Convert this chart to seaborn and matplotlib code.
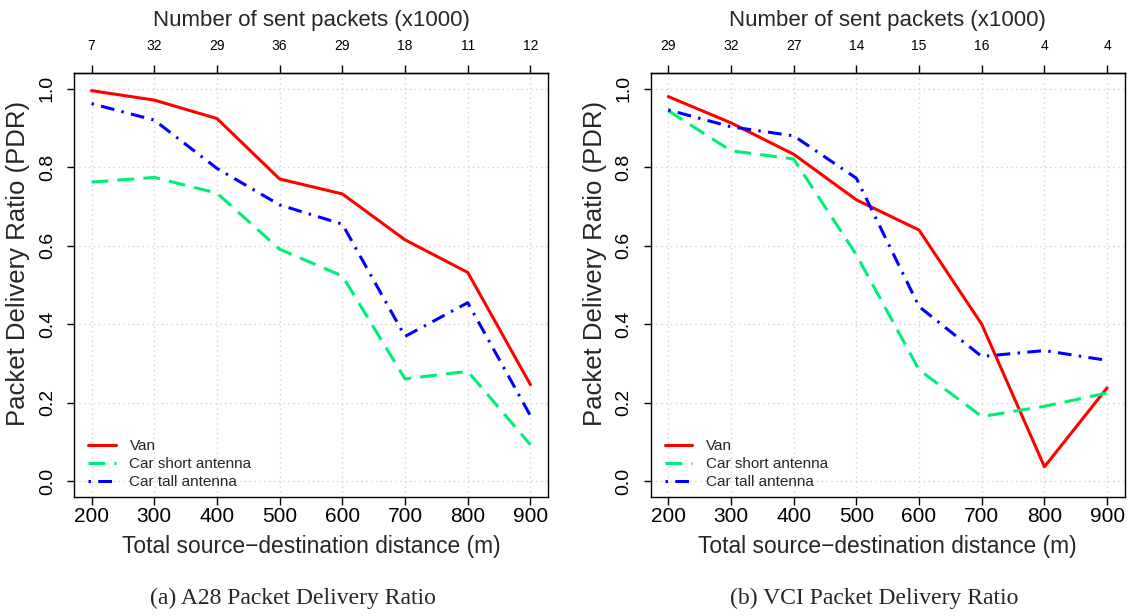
import matplotlib
matplotlib.use("Agg")
import matplotlib.pyplot as plt
import seaborn as sns

# Distances between source and destination (m)
distance = [200, 300, 400, 500, 600, 700, 800, 900]

# A28 scenario
a28_packets = ["7", "32", "29", "36", "29", "18", "11", "12"]
a28_van = [0.995, 0.971, 0.924, 0.770, 0.732, 0.615, 0.532, 0.246]
a28_car_short = [0.762, 0.774, 0.734, 0.591, 0.523, 0.261, 0.280, 0.093]
a28_car_tall = [0.962, 0.920, 0.797, 0.704, 0.655, 0.369, 0.455, 0.167]

# VCI scenario
vci_packets = ["29", "32", "27", "14", "15", "16", "4", "4"]
vci_van = [0.980, 0.913, 0.833, 0.717, 0.640, 0.400, 0.037, 0.238]
vci_car_short = [0.944, 0.842, 0.821, 0.577, 0.284, 0.165, 0.191, 0.225]
vci_car_tall = [0.946, 0.903, 0.880, 0.772, 0.445, 0.318, 0.333, 0.308]

series_names = ["Van", "Car short antenna", "Car tall antenna"]
y_ticks = [0.0, 0.2, 0.4, 0.6, 0.8, 1.0]
captions = ["(a) A28 Packet Delivery Ratio", "(b) VCI Packet Delivery Ratio"]

sns.set_style("white")
plt.rcParams["font.family"] = ["Liberation Sans", "DejaVu Sans"]

colors = ["#FF0000", "#00EE76", "#0000FF"]
styles = ["-", (0, (5.5, 3.0)), (0, (0.8, 2.4, 4.5, 2.4))]
LW = 2.2

fig = plt.figure(figsize=(11.3, 6.16), dpi=100)
W, H = 1130, 616
box_h = 424
bottom = 1 - 497 / H
lefts = [74 / W, 650.7 / W]
width = 474 / W
caption_x = [293, 874]

panels = [
    (a28_packets, [a28_van, a28_car_short, a28_car_tall]),
    (vci_packets, [vci_van, vci_car_short, vci_car_tall]),
]

for i, (packets, series) in enumerate(panels):
    ax = fig.add_axes([lefts[i], bottom, width, box_h / H])
    for vals, name, c, ls in zip(series, series_names, colors, styles):
        sns.lineplot(x=distance, y=vals, ax=ax, color=c, linestyle=ls,
                     linewidth=LW, label=name, legend=False)
    ax.set_xlim(172, 928)
    ax.set_ylim(-0.04, 1.04)
    ax.set_xticks(distance)
    ax.set_yticks(y_ticks)
    ax.set_yticklabels([f"{v:.1f}" for v in y_ticks], rotation=90,
                       va="center", ha="right")
    ax.grid(True, color="#D3D3D3", linestyle=(0, (1, 2.5)), linewidth=1.0)
    ax.set_axisbelow(True)
    for sp in ax.spines.values():
        sp.set_color("black")
        sp.set_linewidth(1.0)
    ax.tick_params(axis="x", direction="out", length=6, width=1.0,
                   pad=1.5, labelsize=15, colors="black", bottom=True)
    ax.tick_params(axis="y", direction="out", length=5, width=1.0,
                   pad=8, labelsize=14, colors="black", left=True)

    top = ax.secondary_xaxis("top")
    top.set_xticks(distance, labels=packets)
    top.tick_params(axis="x", direction="out", length=6, width=1.0,
                    pad=8.5, labelsize=10, colors="black")
    top.spines["top"].set_linewidth(1.0)
    top.set_xlabel("Number of sent packets (x1000)", fontsize=16,
                   labelpad=9)

    ax.set_xlabel("Total source\u2212destination distance (m)", fontsize=16.4)
    ax.xaxis.set_label_coords(0.5, -0.09)
    ax.set_ylabel("Packet Delivery Ratio (PDR)", fontsize=18.5)
    ax.yaxis.set_label_coords(-0.093, 0.55)

    ax.legend(loc="lower left", bbox_to_anchor=(0.03, 0.019),
              frameon=False, fontsize=11, handlelength=1.8,
              handletextpad=0.9, labelspacing=0.25, borderpad=0,
              borderaxespad=0)

    fig.text(caption_x[i] / W, 1 - 598 / H, captions[i], ha="center",
             va="center", fontsize=17,
             family=["Liberation Serif", "DejaVu Serif"])

fig.savefig("out.png", dpi=100)
